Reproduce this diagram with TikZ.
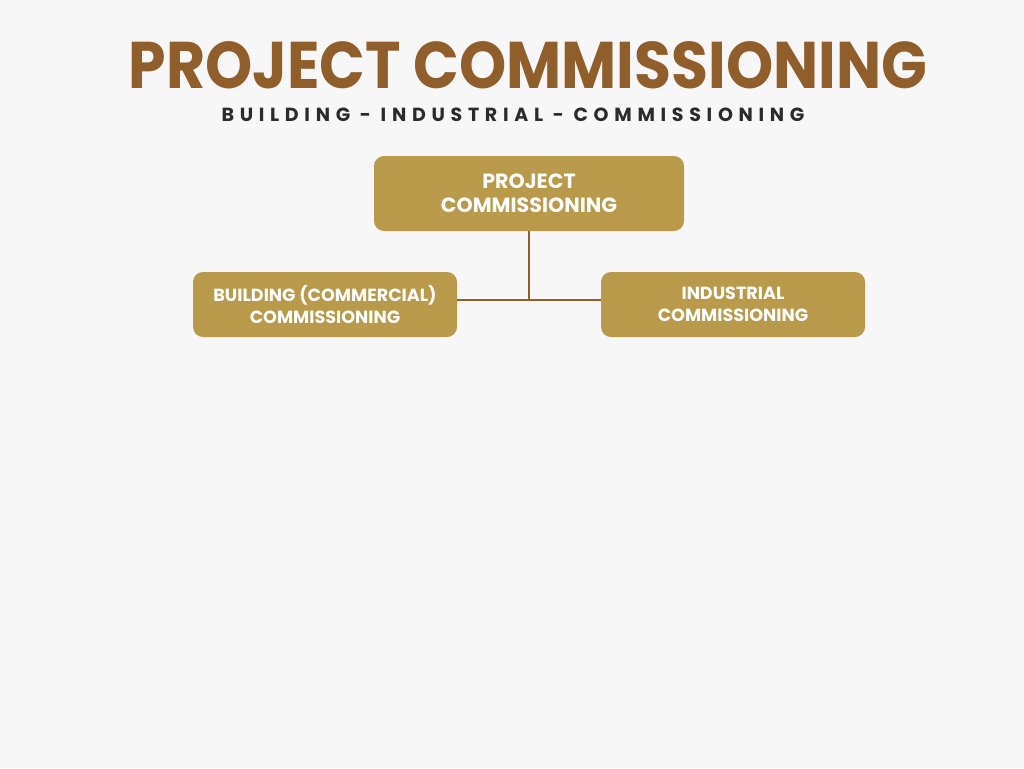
\documentclass[tikz,border=0pt]{standalone}
\usepackage{fontspec}
\usepackage{xcolor}
\setmainfont{Poppins}
\newfontfamily\spaced[LetterSpace=30]{Poppins}
\definecolor{bg}{HTML}{F7F7F7}
\definecolor{brown}{HTML}{8F5E2A}
\definecolor{gold}{HTML}{B9994A}
\definecolor{ink}{HTML}{2B2B2B}

\begin{document}
\begin{tikzpicture}[x=1pt,y=-1pt,
    box/.style={fill=gold,rounded corners=10pt,text=white,align=center,
      font=\bfseries\fontsize{17.6}{22.5}\selectfont,inner sep=0pt},
    link/.style={brown,line width=2.6pt}]

    \fill[bg] (0,0) rectangle (1024,768);

    \node[text=brown,font=\bfseries\fontsize{66}{66}\selectfont,xscale=0.91,transform shape,
      inner sep=0pt] (title) at (528,65) {PROJECT COMMISSIONING};
    \node[text=ink,font=\spaced\bfseries\fontsize{19}{19}\selectfont,inner sep=0pt]
      (sub) at (513,115) {BUILDING - INDUSTRIAL - COMMISSIONING};

    \node[box,minimum width=310pt,minimum height=75pt,
      font=\bfseries\fontsize{20.6}{24}\selectfont] (top) at (529,193.5)
      {PROJECT\\COMMISSIONING};
    \node[box,minimum width=264pt,minimum height=65pt] (left) at (325,304.5)
      {BUILDING (COMMERCIAL)\\COMMISSIONING};
    \node[box,minimum width=264pt,minimum height=65pt] (right) at (733,304.5)
      {INDUSTRIAL\\COMMISSIONING};

    \coordinate (j) at (529,300);
    \draw[link] (top.south) -- (j);
    \draw[link] (left.east |- j) -- (right.west |- j);
  \end{tikzpicture}
\end{document}
